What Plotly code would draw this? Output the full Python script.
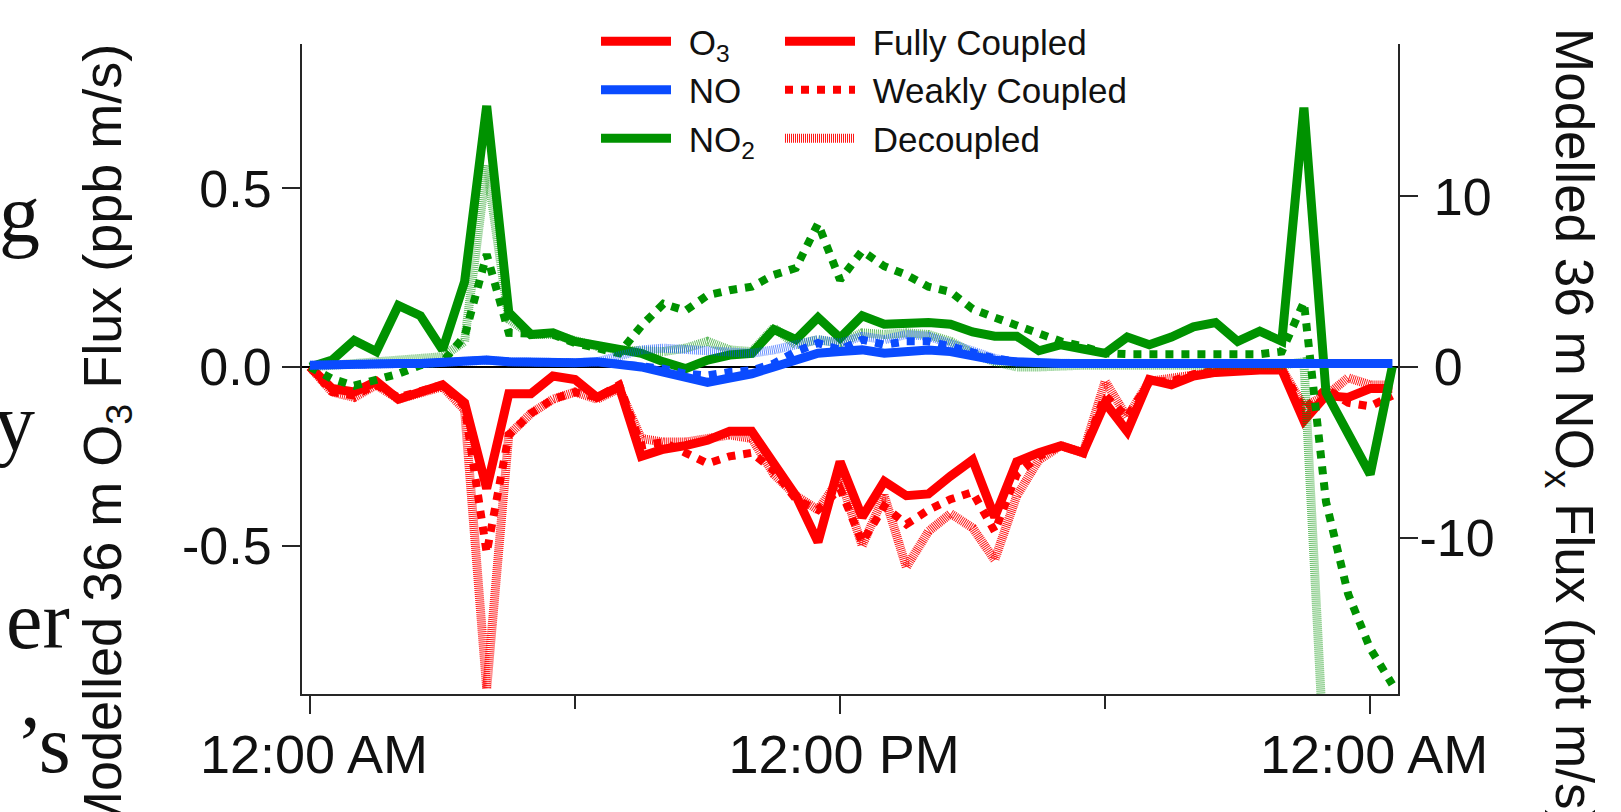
import plotly.graph_objects as go

# ---------------- data (half-hourly, hours since midnight) ----------------
hours = [i * 0.5 for i in range(50)]

o3_fully = [0.00, -0.06, -0.07, -0.04, -0.09, -0.07, -0.05, -0.10, -0.34, -0.075,
            -0.075, -0.025, -0.035, -0.085, -0.055, -0.25, -0.23, -0.22, -0.205, -0.18,
            -0.18, -0.27, -0.36, -0.49, -0.265, -0.42, -0.32, -0.36, -0.355, -0.305,
            -0.26, -0.42, -0.265, -0.24, -0.22, -0.24, -0.10, -0.18, -0.035, -0.05,
            -0.025, -0.015, -0.01, -0.008, -0.008, -0.15, -0.08, -0.085, -0.06, -0.06]
o3_weakly = [0.00, -0.07, -0.08, -0.05, -0.085, -0.065, -0.05, -0.11, -0.52, -0.19,
             -0.13, -0.09, -0.07, -0.085, -0.05, -0.22, -0.21, -0.24, -0.27, -0.25,
             -0.24, -0.29, -0.37, -0.40, -0.34, -0.49, -0.39, -0.44, -0.40, -0.37,
             -0.35, -0.46, -0.30, -0.25, -0.22, -0.24, -0.08, -0.14, -0.04, -0.04,
             -0.02, -0.01, -0.005, -0.005, -0.005, -0.12, -0.06, -0.10, -0.11, -0.08]
o3_decoupled = [0.00, -0.07, -0.085, -0.05, -0.09, -0.07, -0.055, -0.12, -0.90, -0.19,
                -0.13, -0.09, -0.07, -0.09, -0.06, -0.20, -0.21, -0.21, -0.20, -0.19,
                -0.20, -0.30, -0.36, -0.40, -0.31, -0.50, -0.36, -0.56, -0.46, -0.41,
                -0.45, -0.54, -0.36, -0.26, -0.22, -0.24, -0.04, -0.14, -0.04, -0.03,
                -0.02, -0.01, -0.005, -0.005, -0.005, -0.11, -0.08, -0.03, -0.05, -0.05]

no2_fully = [0.0, 0.4, 1.55, 0.9, 3.6, 3.0, 1.0, 5.0, 15.3, 3.2,
             1.9, 2.0, 1.5, 1.3, 1.1, 0.8, 0.3, -0.1, 0.4, 0.7,
             0.8, 2.2, 1.6, 2.9, 1.7, 3.0, 2.5, 2.6, 2.6, 2.5,
             2.05, 1.8, 1.8, 0.95, 1.3, 1.05, 0.8, 1.75, 1.3, 1.75,
             2.35, 2.6, 1.5, 2.1, 1.5, 15.2, -1.5, -3.9, -6.3, 0.0]
no2_weakly = [0.0, -0.7, -1.1, -0.8, -0.4, 0.1, 0.3, 1.8, 6.6, 2.0,
              2.0, 1.9, 1.4, 1.1, 0.8, 2.4, 3.7, 3.3, 4.2, 4.5,
              4.7, 5.4, 5.8, 8.4, 5.1, 6.8, 5.9, 5.4, 4.7, 4.4,
              3.4, 2.9, 2.4, 1.9, 1.5, 1.2, 0.8, 0.75, 0.75, 0.75,
              0.75, 0.75, 0.75, 0.75, 0.9, 3.8, -7.9, -13.3, -16.5, -18.6]
no2_decoupled = [0.0, 0.1, 0.15, 0.2, 0.3, 0.5, 0.6, 1.5, 11.8, 2.8,
                 1.9, 1.9, 1.5, 1.2, 1.0, 0.9, 0.9, 1.1, 1.5, 1.0,
                 0.9, 2.3, 1.3, 1.6, 1.4, 2.0, 1.9, 2.0, 1.9, 1.5,
                 0.8, 0.3, 0.0, 0.0, 0.1, 0.1, 0.1, 0.1, 0.1, 0.1,
                 0.1, 0.1, 0.1, 0.1, 0.1, 0.3, -25.0, -30.0, -32.0, -33.0]

no_fully = [0.1, 0.15, 0.15, 0.2, 0.2, 0.2, 0.25, 0.3, 0.4, 0.3,
            0.25, 0.25, 0.25, 0.3, 0.2, 0.0, -0.3, -0.65, -0.9, -0.65,
            -0.4, 0.0, 0.45, 0.8, 0.9, 1.0, 0.8, 0.9, 1.0, 0.9,
            0.6, 0.4, 0.3, 0.2, 0.2, 0.2, 0.2, 0.2, 0.2, 0.2,
            0.2, 0.2, 0.2, 0.2, 0.2, 0.2, 0.2, 0.2, 0.2, 0.2]
no_weakly = [0.1, 0.15, 0.15, 0.2, 0.2, 0.2, 0.25, 0.3, 0.4, 0.3,
             0.25, 0.25, 0.25, 0.3, 0.2, 0.1, -0.1, -0.4, -0.5, -0.3,
             -0.2, 0.2, 0.9, 1.4, 1.0, 1.6, 1.3, 1.5, 1.5, 1.2,
             0.8, 0.5, 0.3, 0.2, 0.2, 0.2, 0.2, 0.2, 0.2, 0.2,
             0.2, 0.2, 0.2, 0.2, 0.2, 0.2, 0.2, 0.2, 0.2, 0.2]
no_decoupled = [0.1, 0.15, 0.15, 0.2, 0.2, 0.2, 0.25, 0.3, 0.4, 0.3,
                0.25, 0.25, 0.25, 0.3, 0.6, 1.0, 1.1, 1.0, 0.9, 0.8,
                0.8, 1.0, 1.3, 1.6, 1.4, 1.8, 1.6, 1.9, 1.8, 1.4,
                0.9, 0.5, 0.25, 0.2, 0.2, 0.2, 0.2, 0.2, 0.2, 0.2,
                0.2, 0.2, 0.2, 0.2, 0.2, 0.2, 0.2, 0.2, 0.2, 0.2]

x_tickvals = [0, 12, 24]
x_ticktext = ["12:00 AM", "12:00 PM", "12:00 AM"]
x_minor_tickvals = [6, 18]
y_tickvals = [-0.5, 0.0, 0.5]
y_ticktext = ["-0.5", "0.0", "0.5"]
y2_tickvals = [-10, 0, 10]
y2_ticktext = ["-10", "\u00a00", "\u00a010"]

# ---------------- styling ----------------
W, H = 1621, 812
ML, MR, MT, MB = 302, 223, 44, 118
PW, PH = W - ML - MR, H - MT - MB

RED = "#ff0000"
BLUE = "#0a4bff"
GREEN = "#009200"
AX = "#262626"
FONT = "Liberation Sans, Arial, sans-serif"

LW = 9
STYLES = {
    "fully": dict(width=LW, dash="solid"),
    "weakly": dict(width=8, dash="dot"),
    "decoupled": dict(width=LW, dash="1px,1px"),
}


def px_x(p):
    return (p - ML) / PW


def px_y(p):
    return (H - MB - p) / PH


fig = go.Figure()

series = [
    ("y", RED, "decoupled", o3_decoupled, 0.9),
    ("y", RED, "weakly", o3_weakly, 1.0),
    ("y", RED, "fully", o3_fully, 1.0),
    ("y2", GREEN, "decoupled", no2_decoupled, 0.6),
    ("y2", GREEN, "weakly", no2_weakly, 1.0),
    ("y2", GREEN, "fully", no2_fully, 1.0),
    ("y2", BLUE, "decoupled", no_decoupled, 0.6),
    ("y2", BLUE, "weakly", no_weakly, 1.0),
    ("y2", BLUE, "fully", no_fully, 1.0),
]
for yax, col, sty, vals, op in series:
    fig.add_trace(go.Scatter(
        x=hours, y=vals, yaxis=yax, mode="lines", opacity=op,
        line=dict(color=col, **STYLES[sty]), showlegend=False, hoverinfo="skip"))

GAP = "\u00a0\u200a"
for name, col in [("O<sub>3</sub>", RED), ("NO", BLUE), ("NO<sub>2</sub>", GREEN)]:
    fig.add_trace(go.Scatter(x=[None], y=[None], mode="lines", name=GAP + name,
                             line=dict(color=col, width=LW), legend="legend"))
for name, sty, op in [("Fully Coupled", "fully", 1.0), ("Weakly Coupled", "weakly", 1.0),
                      ("Decoupled", "decoupled", 0.9)]:
    fig.add_trace(go.Scatter(x=[None], y=[None], mode="lines", name=GAP + name, opacity=op,
                             line=dict(color=RED, **STYLES[sty]), legend="legend2"))

axis_common = dict(showline=True, linecolor=AX, linewidth=2, ticks="outside",
                   ticklen=18, tickwidth=2, tickcolor=AX, showgrid=False,
                   tickfont=dict(family=FONT, size=52, color="#111"))

fig.update_layout(
    width=W, height=H, autosize=False,
    margin=dict(l=ML, r=MR, t=MT, b=MB, pad=0),
    paper_bgcolor="white", plot_bgcolor="white",
    xaxis=dict(range=[-0.181, 24.63], tickmode="array", tickvals=x_tickvals,
               ticktext=x_ticktext, zeroline=False, ticklabelstandoff=-6,
               ticklabelshift=4,
               minor=dict(tickmode="array", tickvals=x_minor_tickvals, ticks="outside",
                          ticklen=13, tickwidth=2, tickcolor=AX, showgrid=False),
               **{**axis_common, "tickfont": dict(family=FONT, size=54, color="#111")}),
    yaxis=dict(range=[-0.915, 0.904], tickmode="array", tickvals=y_tickvals,
               ticktext=y_ticktext, zeroline=True, zerolinecolor="#000",
               zerolinewidth=1.5, ticklabelstandoff=0, **axis_common),
    yaxis2=dict(range=[-19.17, 18.93], overlaying="y", side="right", tickmode="array",
                tickvals=y2_tickvals, ticktext=y2_ticktext, zeroline=False,
                ticklabelstandoff=-9, **axis_common),
    legend=dict(x=px_x(596), y=px_y(12), xanchor="left", yanchor="top",
                bgcolor="rgba(0,0,0,0)", itemwidth=70, tracegroupgap=0,
                font=dict(family=FONT, size=35, color="#111")),
    legend2=dict(x=px_x(780), y=px_y(12), xanchor="left", yanchor="top",
                 bgcolor="rgba(0,0,0,0)", itemwidth=70, tracegroupgap=0,
                 font=dict(family=FONT, size=35, color="#111")),
    showlegend=True,
)

annotations = [
    dict(text="Modelled 36 m O<sub>3</sub> Flux (ppb m/s)", textangle=-90,
         x=px_x(106), y=px_y(440), xanchor="center", yanchor="middle",
         font=dict(family=FONT, size=54, color="#111")),
    dict(text="Modelled 36 m NO<sub>x</sub> Flux (ppt m/s)", textangle=90,
         x=px_x(1571), y=px_y(427), xanchor="center", yanchor="middle",
         font=dict(family=FONT, size=53, color="#111")),
]
SERIF = "Liberation Serif, Times New Roman, serif"
for txt, xr, yc in [("g", 42, 214), ("y", 37, 422), ("er", 72, 620), ("\u2019s", 73, 745)]:
    annotations.append(dict(text=txt, x=px_x(xr), y=px_y(yc), xanchor="right",
                            yanchor="middle",
                            font=dict(family=SERIF, size=82, color="#111")))
for a in annotations:
    a.update(xref="paper", yref="paper", showarrow=False)
fig.update_layout(annotations=annotations)

fig.write_html("out.html", config={"displayModeBar": False},
               post_script="document.body.style.margin='0';document.body.style.padding='0';")
